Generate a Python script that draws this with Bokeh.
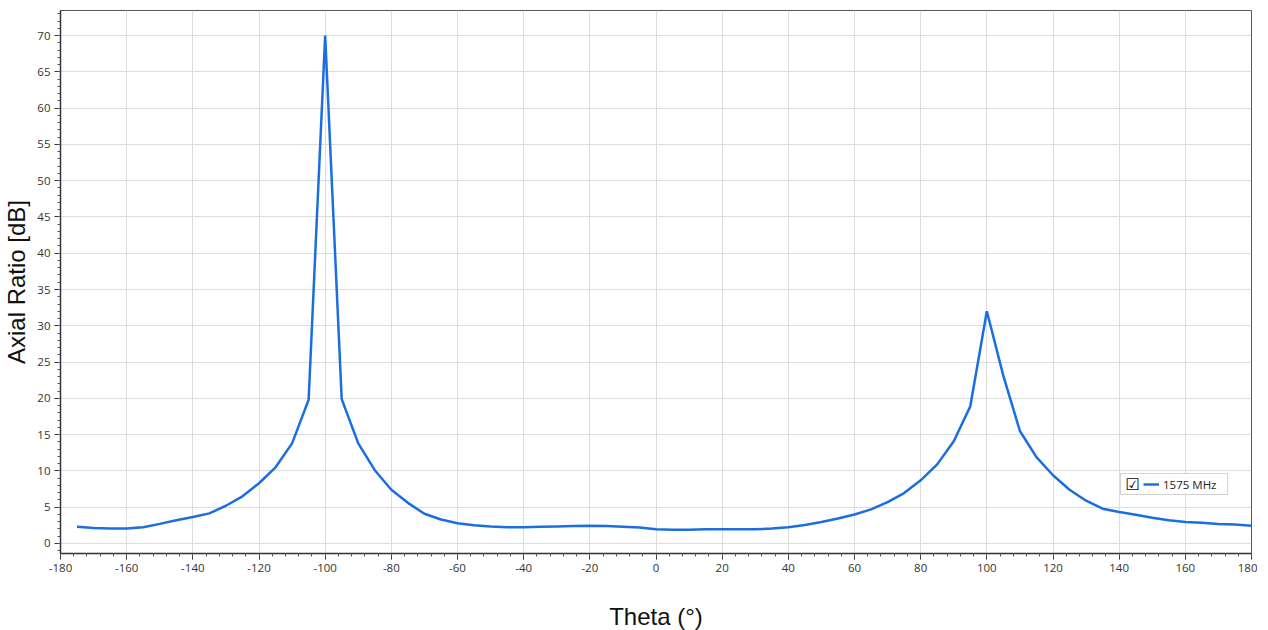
from bokeh.plotting import figure
from bokeh.models import (Range1d, FixedTicker, Legend, LegendItem, Label, BoxAnnotation)
from bokeh.embed import file_html
from bokeh.resources import INLINE

# ---- data ----
theta = [-175, -170, -165, -160, -155, -150, -145, -140, -135, -130, -125, -120,
         -115, -110, -105, -100, -95, -90, -85, -80, -75, -70, -65, -60, -55,
         -50, -45, -40, -35, -30, -25, -20, -15, -10, -5, 0, 5, 10, 15, 20, 25,
         30, 35, 40, 45, 50, 55, 60, 65, 70, 75, 80, 85, 90, 95, 100, 105, 110,
         115, 120, 125, 130, 135, 140, 145, 150, 155, 160, 165, 170, 175, 180]
axial_ratio = [2.3, 2.15, 2.05, 2.05, 2.25, 2.7, 3.2, 3.65, 4.15, 5.2, 6.5, 8.3,
               10.5, 13.8, 19.8, 70.0, 19.9, 13.8, 10.1, 7.4, 5.6, 4.1, 3.3, 2.8, 2.5,
               2.35, 2.25, 2.25, 2.3, 2.35, 2.4, 2.45, 2.4, 2.3, 2.2, 1.95, 1.9, 1.9,
               1.95, 1.95, 1.95, 1.95, 2.05, 2.25, 2.55, 2.95, 3.45, 4.0, 4.7, 5.7,
               6.95, 8.7, 10.9, 14.1, 18.9, 32.0, 23.1, 15.5, 11.9, 9.4, 7.4, 5.9,
               4.8, 4.35, 3.95, 3.55, 3.2, 2.95, 2.85, 2.7, 2.6, 2.45]
series_name = "1575 MHz"
x_ticks = list(range(-180, 181, 20))
y_ticks = list(range(0, 71, 5))

LINE_COLOR = "#1c6ee0"

p = figure(frame_width=1191, frame_height=543,
           x_range=Range1d(-180, 180), y_range=Range1d(-1.38, 73.45),
           output_backend="svg", toolbar_location=None,
           min_border_top=10, min_border_left=0, min_border_right=6, min_border_bottom=0)

p.outline_line_color = "#555555"
p.outline_line_width = 1
p.background_fill_color = "white"
p.border_fill_color = "white"

line = p.line(theta, axial_ratio, line_color=LINE_COLOR, line_width=2.5)

p.xaxis.ticker = FixedTicker(ticks=x_ticks,
                             minor_ticks=list(range(-180, 181, 4)))
p.yaxis.ticker = FixedTicker(ticks=y_ticks,
                             minor_ticks=[i for i in range(-1, 74)])
p.xaxis.major_label_overrides = {t: str(t) for t in x_ticks}
p.yaxis.major_label_overrides = {t: str(t) for t in y_ticks}

for ax in (p.xaxis[0], p.yaxis[0]):
    ax.axis_line_color = "#333333"
    ax.axis_line_width = 1.5
    ax.major_tick_line_color = "#333333"
    ax.minor_tick_line_color = "#555555"
    ax.major_tick_out = 6
    ax.major_tick_in = 0
    ax.minor_tick_out = 3
    ax.minor_tick_in = 0
    ax.major_label_text_font = "Open Sans"
    ax.major_label_text_font_size = "11.5px"
    ax.major_label_text_color = "#333333"
    ax.axis_label_text_font = "Liberation Sans"
    ax.axis_label_text_font_size = "24px"
    ax.axis_label_text_font_style = "normal"
    ax.axis_label_text_color = "#111111"

p.xaxis.axis_label = "Theta (°)"
p.yaxis.axis_label = "Axial Ratio [dB]"
p.xaxis.major_label_standoff = 4
p.yaxis.major_label_standoff = 4
p.xaxis.axis_label_standoff = 28
p.yaxis.axis_label_standoff = 4

p.xgrid.grid_line_color = "#dddddd"
p.ygrid.grid_line_color = "#dddddd"
p.xgrid.grid_line_width = 1
p.ygrid.grid_line_width = 1

# legend frame + checkbox
box = BoxAnnotation(left=140.4, right=172.8, bottom=6.75, top=9.65,
                    fill_color="white", fill_alpha=1.0,
                    line_color="#666666", line_width=1, level="overlay")
p.add_layout(box)

legend = Legend(items=[LegendItem(label=series_name, renderers=[line])],
                location=(1083, 61), padding=0, margin=0, spacing=0,
                glyph_width=16, glyph_height=16, label_standoff=4,
                label_text_font="Open Sans", label_text_font_size="11.5px",
                label_text_color="#222222",
                border_line_alpha=0, background_fill_alpha=0)
p.add_layout(legend, "center")

check = Label(x=144.1, y=8.15, text="☑", text_font="DejaVu Sans",
              text_font_size="16px", text_font_style="bold",
              text_align="center", text_baseline="middle",
              text_color="#000000", level="overlay")
p.add_layout(check)

open("out.html", "w").write(file_html(p, INLINE))
